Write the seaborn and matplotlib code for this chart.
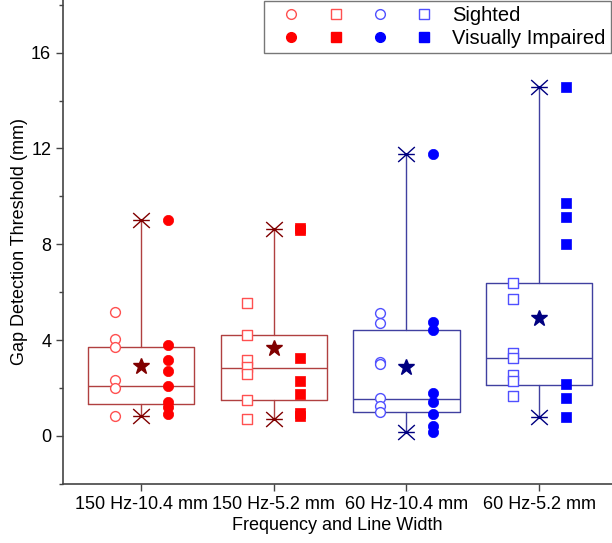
"""
Gap detection threshold by frequency and line width - box chart
"""
import numpy as np
import pandas as pd
import matplotlib
matplotlib.use('Agg')
import matplotlib.pyplot as plt
import seaborn as sns
from matplotlib.path import Path
from matplotlib.lines import Line2D
from matplotlib.legend_handler import HandlerTuple
from matplotlib.ticker import MultipleLocator

# ------------------------------------------------------ #
# DATA
# ------------------------------------------------------ #
conditions = ['150 Hz-10.4 mm', '150 Hz-5.2 mm', '60 Hz-10.4 mm', '60 Hz-5.2 mm']

sighted_150_104 = [5.19, 4.04, 3.73, 2.34, 1.99, 0.85]
impaired_150_104 = [9.00, 3.80, 3.17, 2.72, 2.07, 1.41, 1.22, 0.90]
sighted_150_52 = [5.53, 4.22, 3.17, 2.89, 2.58, 1.50, 0.70]
impaired_150_52 = [8.70, 8.58, 3.25, 2.28, 1.74, 0.95, 0.85]
sighted_60_104 = [5.15, 4.71, 3.10, 2.99, 1.60, 1.25, 1.01]
impaired_60_104 = [11.77, 4.77, 4.43, 1.81, 1.43, 0.92, 0.43, 0.18]
sighted_60_52 = [6.38, 5.71, 3.45, 3.27, 2.55, 2.30, 1.67]
impaired_60_52 = [14.57, 9.72, 9.12, 8.01, 2.16, 1.60, 0.77]

# box statistics as drawn
box_q1 = [1.34, 1.50, 1.01, 2.13]
box_median = [2.07, 2.84, 1.55, 3.25]
box_q3 = [3.73, 4.22, 4.41, 6.38]
whisker_low = [0.85, 0.71, 0.15, 0.77]
whisker_high = [9.00, 8.63, 11.78, 14.57]
box_mean = [2.91, 3.65, 2.88, 4.94]

# ------------------------------------------------------ #
# STYLE
# ------------------------------------------------------ #
sns.set_theme(style='ticks')
plt.rcParams['font.family'] = ['Liberation Sans', 'DejaVu Sans']
plt.rcParams['font.size'] = 13
plt.rcParams['axes.labelcolor'] = 'black'
plt.rcParams['text.color'] = 'black'

box_colors = ['#B04040', '#B04040', '#4040A0', '#4040A0']
mean_colors = ['#800000', '#800000', '#000080', '#000080']
open_colors = ['#FF5050', '#FF5050', '#5050FF', '#5050FF']
fill_colors = ['#FF0000', '#FF0000', '#0000FF', '#0000FF']
shapes = ['o', 's', 'o', 's']

# whisker end symbol: X with horizontal bar
xbar = Path([(-1, 0), (1, 0), (-1, -0.9), (1, 0.9), (-1, 0.9), (1, -0.9)],
            [Path.MOVETO, Path.LINETO, Path.MOVETO, Path.LINETO, Path.MOVETO, Path.LINETO])

sighted = [sighted_150_104, sighted_150_52, sighted_60_104, sighted_60_52]
impaired = [impaired_150_104, impaired_150_52, impaired_60_104, impaired_60_52]

rows = []
for i, cond in enumerate(conditions):
    for v in sighted[i]:
        rows.append({'cond': i, 'group': 'Sighted', 'value': v})
    for v in impaired[i]:
        rows.append({'cond': i, 'group': 'Visually Impaired', 'value': v})
df = pd.DataFrame(rows)
df['x'] = df['cond'] + np.where(df['group'] == 'Sighted', -0.2, 0.2)

# ------------------------------------------------------ #
# FIGURE
# ------------------------------------------------------ #
fig = plt.figure(figsize=(6.12, 5.43), dpi=100)
ax = fig.add_axes([0.103, 0.109, 0.897, 0.891])

stats = []
for i in range(4):
    stats.append({'q1': box_q1[i], 'med': box_median[i], 'q3': box_q3[i],
                  'whislo': whisker_low[i], 'whishi': whisker_high[i],
                  'mean': box_mean[i], 'label': conditions[i]})
bp = ax.bxp(stats, positions=range(4), widths=0.8, showfliers=False,
            showcaps=False, showmeans=True, patch_artist=False)
for i in range(4):
    bp['boxes'][i].set(color=box_colors[i], linewidth=1.0)
    bp['medians'][i].set(color=box_colors[i], linewidth=1.0)
    bp['whiskers'][2 * i].set(color=box_colors[i], linewidth=1.0)
    bp['whiskers'][2 * i + 1].set(color=box_colors[i], linewidth=1.0)
    bp['means'][i].set(marker='*', markersize=12, markerfacecolor=mean_colors[i],
                       markeredgecolor=mean_colors[i])
    ax.plot([i, i], [whisker_low[i], whisker_high[i]], linestyle='none',
            marker=xbar, markersize=12, markeredgewidth=1.0,
            color=mean_colors[i])

# individual points
for i in range(4):
    sub = df[df['cond'] == i]
    s_sub = sub[sub['group'] == 'Sighted']
    v_sub = sub[sub['group'] == 'Visually Impaired']
    sns.scatterplot(data=s_sub, x='x', y='value', marker=shapes[i], s=50,
                    facecolor='white', edgecolor=open_colors[i], linewidth=1.0,
                    ax=ax, zorder=3)
    sns.scatterplot(data=v_sub, x='x', y='value', marker=shapes[i], s=55,
                    color=fill_colors[i], edgecolor=fill_colors[i], linewidth=0.5,
                    ax=ax, zorder=3)

ax.set_xlim(-0.59, 3.55)
ax.set_ylim(-2, 18.2)
ax.set_xticks(range(4))
ax.set_xticklabels(conditions, fontsize=13)
ax.yaxis.set_major_locator(MultipleLocator(4))
ax.yaxis.set_minor_locator(MultipleLocator(2))
ax.set_yticks([0, 4, 8, 12, 16])
ax.tick_params(axis='y', which='major', length=5, width=1.0, labelsize=13, direction='out')
ax.tick_params(axis='y', which='minor', length=3, width=1.0, direction='out')
ax.tick_params(axis='x', which='major', length=5, width=1.0, labelsize=13, direction='out')
ax.set_xlabel('Frequency and Line Width', fontsize=13, labelpad=3, color='black')
ax.set_ylabel('Gap Detection Threshold (mm)', fontsize=13, labelpad=2, color='black')
for side in ['top', 'right']:
    ax.spines[side].set_visible(False)
for side in ['left', 'bottom']:
    ax.spines[side].set_color('#444444')
    ax.spines[side].set_linewidth(1.2)
ax.tick_params(colors='#444444', labelcolor='black', which='both')

# legend: four symbols per row
def mk(shape, color, filled):
    return Line2D([], [], linestyle='none', marker=shape, markersize=7,
                  markerfacecolor=color if filled else 'white',
                  markeredgecolor=color, markeredgewidth=1.0)

row_s = tuple(mk(shapes[i], open_colors[i], False) for i in range(4))
row_v = tuple(mk(shapes[i], fill_colors[i], True) for i in range(4))
leg = ax.legend([row_s, row_v], ['Sighted', 'Visually Impaired'],
                handler_map={tuple: HandlerTuple(ndivide=None, pad=0)},
                handlelength=8.8, handletextpad=0.3, labelspacing=0.2,
                borderpad=0.25, borderaxespad=0, loc='upper right',
                bbox_to_anchor=(0.998, 0.998), fancybox=False, framealpha=1,
                edgecolor='#777777', prop={'size': 14.5})
leg.get_frame().set_linewidth(1.0)

plt.savefig('out.png', dpi=100)
